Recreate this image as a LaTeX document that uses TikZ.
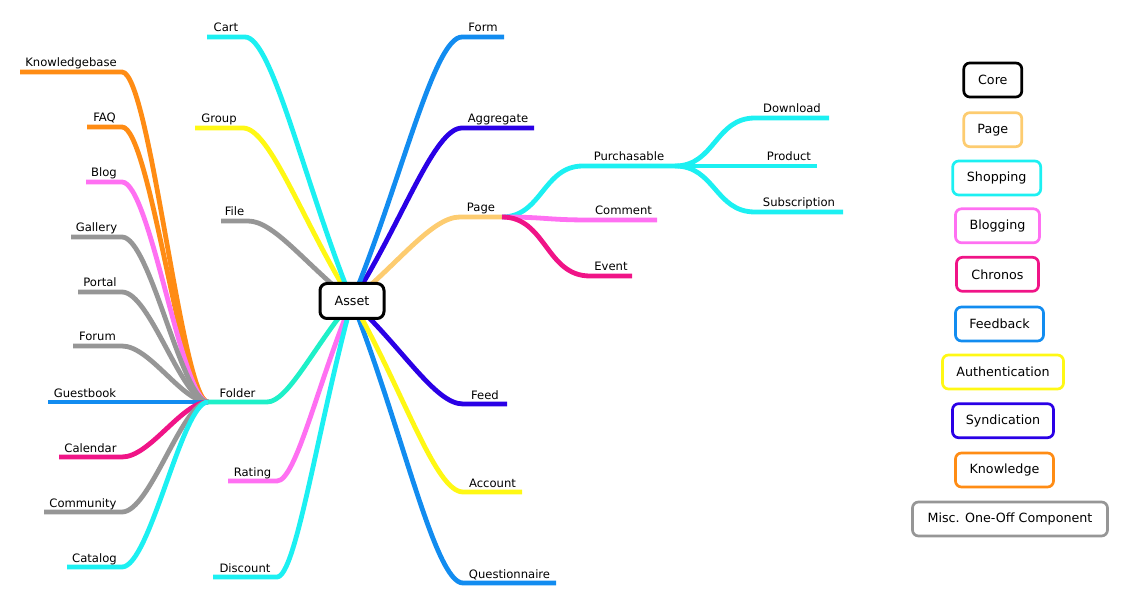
\documentclass[tikz,border=0pt]{standalone}
\usepackage{fontspec}
\setmainfont{DejaVu Sans}
\definecolor{cShop}{RGB}{28,240,242}
\definecolor{cAuth}{RGB}{255,248,20}
\definecolor{cMisc}{RGB}{150,150,150}
\definecolor{cFeed}{RGB}{18,140,240}
\definecolor{cSynd}{RGB}{42,0,230}
\definecolor{cPage}{RGB}{253,204,112}
\definecolor{cBlog}{RGB}{255,112,242}
\definecolor{cChron}{RGB}{240,20,135}
\definecolor{cKnow}{RGB}{255,140,20}
\definecolor{cFold}{RGB}{30,240,200}
\pgfdeclarelayer{bg}
\pgfsetlayers{bg,main}
\tikzset{
  br/.style={line width=4.8pt, line cap=butt, line join=round},
  lbl/.style={font=\fontsize{11.6}{13}\selectfont, inner sep=0pt, anchor=base},
  leg/.style={draw, rounded corners=6pt, line width=2.7pt, fill=white,
    minimum height=34pt, inner sep=0pt, font=\fontsize{12.7}{14}\selectfont},
  assetbox/.style={draw=black, rounded corners=7pt, line width=3pt, fill=white,
    minimum width=64pt, minimum height=35pt, inner sep=0pt, font=\fontsize{12.7}{14}\selectfont}
}
\newcommand\mmtopic[5]{%
  \coordinate (#1L) at (#2,#4);
  \coordinate (#1R) at (#3,#4);
  \node[lbl] (#1T) at ({(#2+#3)/2},{#4-5}) {#5};
}
\begin{document}
\begin{tikzpicture}[x=1pt,y=-1pt]
\useasboundingbox (0,0) rectangle (1129,601);

\node[assetbox] (asset) at (352,301) {Asset};

% first-level topics
\mmtopic{cart}{207}{245}{37}{Cart}
\mmtopic{group}{195}{243}{128}{Group}
\mmtopic{file}{221}{248}{221}{File}
\mmtopic{folder}{208}{267}{402}{Folder}
\mmtopic{rating}{228}{277}{481}{Rating}
\mmtopic{discount}{213}{277}{577}{Discount}
\mmtopic{form}{462}{504}{37}{Form}
\mmtopic{aggr}{462}{534}{128}{Aggregate}
\mmtopic{page}{460}{502}{217}{Page}
\mmtopic{feed}{463}{507}{404}{Feed}
\mmtopic{account}{463}{522}{492}{Account}
\mmtopic{quest}{463}{556}{583}{Questionnaire}
% page children
\mmtopic{purch}{583}{675}{166}{Purchasable}
\mmtopic{comment}{590}{657}{220}{Comment}
\mmtopic{event}{590}{632}{276}{Event}
% purchasable children
\mmtopic{download}{755}{829}{118}{Download}
\coordinate (productL) at (675,166);
\coordinate (productR) at (817,166);
\node[lbl] (productT) at (789,161) {Product};
\mmtopic{subscr}{755}{843}{212}{Subscription}
% folder children
\mmtopic{kb}{20}{122}{72}{Knowledgebase}
\mmtopic{faq}{87}{122}{127}{FAQ}
\mmtopic{blog}{86}{122}{182}{Blog}
\mmtopic{gallery}{71}{122}{237}{Gallery}
\mmtopic{portal}{78}{122}{292}{Portal}
\mmtopic{forum}{73}{122}{346}{Forum}
\coordinate (guestL) at (48,402);
\node[lbl] (guestT) at (85,397) {Guestbook};
\mmtopic{calendar}{59}{122}{457}{Calendar}
\mmtopic{community}{44}{122}{512}{Community}
\mmtopic{catalog}{67}{122}{567}{Catalog}

\begin{pgfonlayer}{bg}
% folder children
\draw[br,cKnow] (folderL) .. controls (182,402) and (150,72) .. (kbR) -- (kbL);
\draw[br,cKnow] (folderL) .. controls (182,402) and (150,127) .. (faqR) -- (faqL);
\draw[br,cBlog] (folderL) .. controls (182,402) and (150,182) .. (blogR) -- (blogL);
\draw[br,cMisc] (folderL) .. controls (182,402) and (150,237) .. (galleryR) -- (galleryL);
\draw[br,cMisc] (folderL) .. controls (182,402) and (150,292) .. (portalR) -- (portalL);
\draw[br,cMisc] (folderL) .. controls (182,402) and (150,346) .. (forumR) -- (forumL);
\draw[br,cFeed] (folderL) -- (guestL);
\draw[br,cChron] (folderL) .. controls (182,402) and (150,457) .. (calendarR) -- (calendarL);
\draw[br,cMisc] (folderL) .. controls (182,402) and (150,512) .. (communityR) -- (communityL);
\draw[br,cShop] (folderL) .. controls (182,402) and (150,567) .. (catalogR) -- (catalogL);
% asset branches
\draw[br,cMisc] (asset.center) .. controls (305,264) and (274,221) .. (fileR) -- (fileL);
\draw[br,cAuth] (asset.center) .. controls (303,223) and (270,128) .. (groupR) -- (groupL);
\draw[br,cShop] (asset.center) .. controls (304,182) and (272,37) .. (cartR) -- (cartL);
\draw[br,cPage] (asset.center) .. controls (398,264) and (432,217) .. (pageL) -- (pageR);
\draw[br,cSynd] (asset.center) .. controls (402,223) and (434,128) .. (aggrL) -- (aggrR);
\draw[br,cFeed] (asset.center) .. controls (401,182) and (434,37) .. (formL) -- (formR);
\draw[br,cFold] (asset.center) .. controls (314,346) and (288,402) .. (folderR) -- (folderL);
\draw[br,cBlog] (asset.center) .. controls (318,382) and (296,481) .. (ratingR) -- (ratingL);
\draw[br,cShop] (asset.center) .. controls (318,425) and (296,577) .. (discountR) -- (discountL);
\draw[br,cFeed] (asset.center) .. controls (402,428) and (435,583) .. (questL) -- (questR);
\draw[br,cAuth] (asset.center) .. controls (402,387) and (435,492) .. (accountL) -- (accountR);
\draw[br,cSynd] (asset.center) .. controls (402,347) and (435,404) .. (feedL) -- (feedR);
% page children
\draw[br,cShop] (pageR) .. controls (542,217) and (543,166) .. (purchL) -- (purchR);
\draw[br,cBlog] (pageR) .. controls (546,217) and (546,220) .. (commentL) -- (commentR);
\draw[br,cChron] (pageR) .. controls (546,217) and (546,276) .. (eventL) -- (eventR);
% purchasable children
\draw[br,cShop] (purchR) .. controls (715,166) and (715,118) .. (downloadL) -- (downloadR);
\draw[br,cShop] (productL) -- (productR);
\draw[br,cShop] (purchR) .. controls (715,166) and (715,212) .. (subscrL) -- (subscrR);
\end{pgfonlayer}

% legend
\node[leg,draw=black,minimum width=58pt] (lcore) at (992.8,80) {Core};
\node[leg,draw=cPage,minimum width=58pt] (lpage) at (992.8,129.7) {Page};
\node[leg,draw=cShop,minimum width=88pt] (lshop) at (996.7,178) {Shopping};
\node[leg,draw=cBlog,minimum width=84pt] (lblog) at (997.5,225.8) {Blogging};
\node[leg,draw=cChron,minimum width=82pt] (lchron) at (997.5,274.3) {Chronos};
\node[leg,draw=cFeed,minimum width=88pt] (lfeed) at (999.5,324) {Feedback};
\node[leg,draw=cAuth,minimum width=121pt] (lauth) at (1003,372) {Authentication};
\node[leg,draw=cSynd,minimum width=101pt] (lsynd) at (1003,420.7) {Syndication};
\node[leg,draw=cKnow,minimum width=98pt] (lknow) at (1004.5,470) {Knowledge};
\node[leg,draw=cMisc,minimum width=195pt] (lmisc) at (1010,519) {Misc. One-Off Component};
\end{tikzpicture}
\end{document}
